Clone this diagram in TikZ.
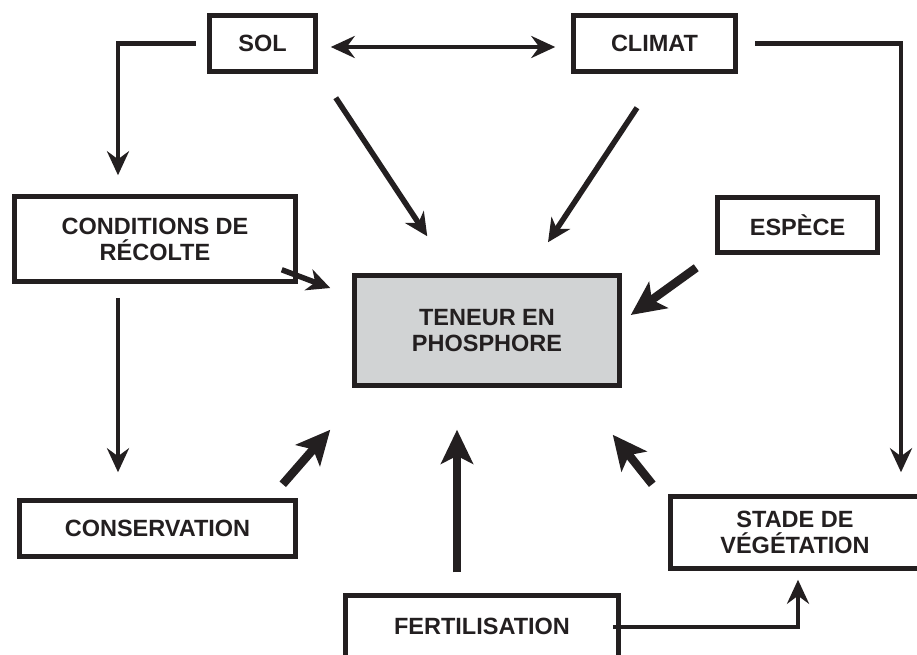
\documentclass[tikz,border=0pt]{standalone}
\usepackage{fontspec}
\setmainfont{Liberation Sans}
\usetikzlibrary{arrows.meta}

\definecolor{inkblack}{HTML}{231F20}
\definecolor{boxgray}{HTML}{D1D3D4}

\begin{document}
\begin{tikzpicture}[x=1pt,y=-1pt,
    box/.style={draw=inkblack, line width=5.5pt, align=center, inner sep=0pt,
      font=\bfseries\fontsize{23.5}{26}\selectfont, text=inkblack},
    thinarrow/.style={draw=inkblack, line width=4.5pt,
      -{Stealth[length=24pt,width=22pt,inset=8pt]}},
    midarrow/.style={draw=inkblack, line width=5.5pt,
      -{Stealth[length=23pt,width=22pt,inset=7pt]}},
    thickarrow/.style={draw=inkblack, line width=8.5pt,
      -{Stealth[length=34pt,width=32pt,inset=8pt]}}]

      \useasboundingbox (0,0) rectangle (917,655);

      % Define the positions of the nodes
      \node[box, minimum width=106pt, minimum height=56pt] (sol) at (262.5,43.5) {SOL};
      \node[box, minimum width=162pt, minimum height=56pt] (climat) at (654.5,43.5) {CLIMAT};

      \node[box, minimum width=281pt, minimum height=85pt] (recolte) at (155,239) {CONDITIONS DE\\R\'ECOLTE};
      \node[box, minimum width=160pt, minimum height=55pt] (espece) at (797.5,225) {ESP\`ECE};

      \node[box, fill=boxgray, minimum width=265pt, minimum height=110pt] (teneur) at (487,330.5) {TENEUR EN\\PHOSPHORE};

      \node[box, minimum width=276pt, minimum height=56pt] (conservation) at (157.5,528.5) {CONSERVATION};
      \node[box, minimum width=249pt, minimum height=72pt] (stade) at (795,532.5) {STADE DE\\V\'EG\'ETATION};
      \node[box, minimum width=273pt, minimum height=62pt] (fertilisation) at (482,626.5) {FERTILISATION};

      % Draw the edges
      \draw[thinarrow, {Stealth[length=24pt,width=22pt,inset=8pt]}-{Stealth[length=24pt,width=22pt,inset=8pt]}] ([shift={(12.5,3.5)}]sol.east) -- ([shift={(-15.5,3.5)}]climat.west);
      \draw[thinarrow] ([shift={(-11,0)}]sol.west) -| ([shift={(-37,-18.5)}]recolte.north);
      \draw[thinarrow] ([shift={(17,0)}]climat.east) -| ([shift={(106,-21.5)}]stade.north);
      \draw[thinarrow] ([shift={(-37,13.5)}]recolte.south) -- ([shift={(-39.5,-25.5)}]conservation.north);
      \draw[thinarrow] ([shift={(-8.5,0.5)}]fertilisation.east) -| ([shift={(3,8.5)}]stade.south);

      \draw[midarrow] ([shift={(17.5,23.5)}]sol.south east) -- ([shift={(75.5,-36.5)}]teneur.north west);
      \draw[midarrow] ([shift={(-17.5,33.5)}]climat.south) -- ([shift={(61,-30.5)}]teneur.north);
      \draw[midarrow] ([shift={(-16.5,-14.5)}]recolte.south east) -- ([shift={(-21.5,-42.5)}]teneur.west);

      \draw[thickarrow] ([shift={(-18.5,12.5)}]espece.south west) -- ([shift={(8.5,-15.5)}]teneur.east);
      \draw[thickarrow] ([shift={(-15.5,-13.5)}]conservation.north east) -- ([shift={(-21.5,41.5)}]teneur.south west);
      \draw[thickarrow] ([shift={(-25,-20.5)}]fertilisation.north) -- ([shift={(-30,41.5)}]teneur.south);
      \draw[thickarrow] ([shift={(-15.5,-9.5)}]stade.north west) -- ([shift={(-9.5,46.5)}]teneur.south east);
  \end{tikzpicture}
\end{document}
